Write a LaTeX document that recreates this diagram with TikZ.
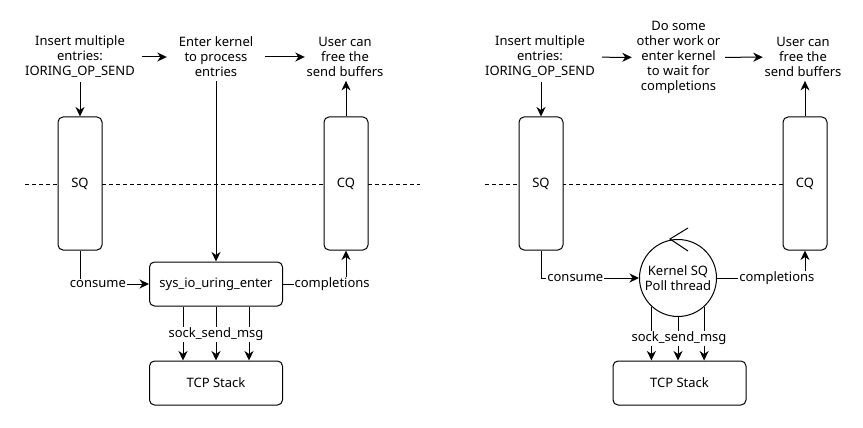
\documentclass[tikz,border=0pt]{standalone}
\usepackage{fontspec}
\setmainfont{Noto Sans}
\usetikzlibrary{arrows.meta}

\begin{document}
\begin{tikzpicture}
    [x=1pt,y=-1pt,
     font=\fontsize{13}{15}\selectfont,
     note/.style={align=center,inner xsep=0pt,inner ysep=4pt},
     queue/.style={draw,line width=1pt,rounded corners=5pt,fill=white,minimum width=44pt,minimum height=133pt,inner sep=0pt},
     block/.style={draw,line width=1pt,rounded corners=5pt,fill=white,minimum width=133pt,minimum height=44pt,inner sep=0pt},
     poll/.style={circle,draw,line width=1pt,fill=white,minimum size=77pt,align=center,inner sep=0pt},
     tag/.style={fill=white,inner sep=1pt},
     post/.style={-{Stealth[length=9.5pt,width=9pt,inset=3pt]},line width=1pt},
     divider/.style={dash pattern=on 4pt off 3pt,line width=0.8pt}]

    \useasboundingbox (0,0) rectangle (863,428);

    % left: user enters the kernel itself
    \draw[divider] (25,184) -- (420,184);

    \node[note,minimum width=124pt] (insert l) at (80,57)  {Insert multiple\\entries:\\IORING\_OP\_SEND};
    \node[note,minimum width=98pt]  (enter l)  at (216,57) {Enter kernel\\to process\\entries};
    \node[note,minimum width=80pt]  (free l)   at (345,57) {User can\\free the\\send buffers};

    \node[queue] (sq l)  at (80,183.5)  {SQ};
    \node[queue] (cq l)  at (346,183.5) {CQ};
    \node[block] (sys l) at (216,284)   {sys\_io\_uring\_enter};
    \node[block] (tcp l) at (216,383)   {TCP Stack};

    \draw[post] (insert l) -- (enter l);
    \draw[post] (enter l) -- (free l);
    \draw[post] (sq l.north |- insert l.south) -- (sq l.north);
    \draw[post] (enter l.south) -- (sys l.north);
    \draw[post] (cq l.north) -- (cq l.north |- free l.south);
    \draw[post] (sq l.south) |- node[tag,pos=0.63] {consume} (sys l.west);
    \draw[post] (sys l.east) -| node[tag,pos=0.39] {completions} (cq l.south);
    \foreach \dx in {-33,0,33}
        \draw[post] ([xshift=\dx pt]sys l.south) -- ([xshift=\dx pt]tcp l.north);
    \node[tag] (send l) at (216,334) {sock\_send\_msg};

    % right: kernel SQ poll thread
    \draw[divider] (485,184) -- (783,184);

    \node[note,minimum width=124pt] (insert r) at (540,57)   {Insert multiple\\entries:\\IORING\_OP\_SEND};
    \node[note,minimum width=93pt]  (wait r)   at (678.5,57.5) {Do some\\other work or\\enter kernel\\to wait for\\completions};
    \node[note,minimum width=80pt]  (free r)   at (803,57)   {User can\\free the\\send buffers};

    \node[queue] (sq r)   at (541,183.5) {SQ};
    \node[queue] (cq r)   at (805,183.5) {CQ};
    \node[poll]  (poll r) at (678,278)   {Kernel SQ\\Poll thread};
    \node[block] (tcp r)  at (679.5,383) {TCP Stack};

    \draw[line width=1pt] (poll r.north) ++(10,-11) -- ++(-18,11) -- ++(18,12);

    \draw[post] (insert r) -- (wait r);
    \draw[post] (wait r) -- (free r);
    \draw[post] (sq r.north |- insert r.south) -- (sq r.north);
    \draw[post] (cq r.north) -- (cq r.north |- free r.south);
    \draw[post] (sq r.south) |- node[tag,pos=0.675] {consume} (poll r.west);
    \draw[post] (poll r.east) -| node[tag,pos=0.34] {completions} (cq r.south);
    \foreach \a in {227.5,270,312.5}
        \draw[post] (poll r.\a) -- (poll r.\a |- tcp r.north);
    \node[tag] (send r) at (679,338) {sock\_send\_msg};
\end{tikzpicture}
\end{document}
